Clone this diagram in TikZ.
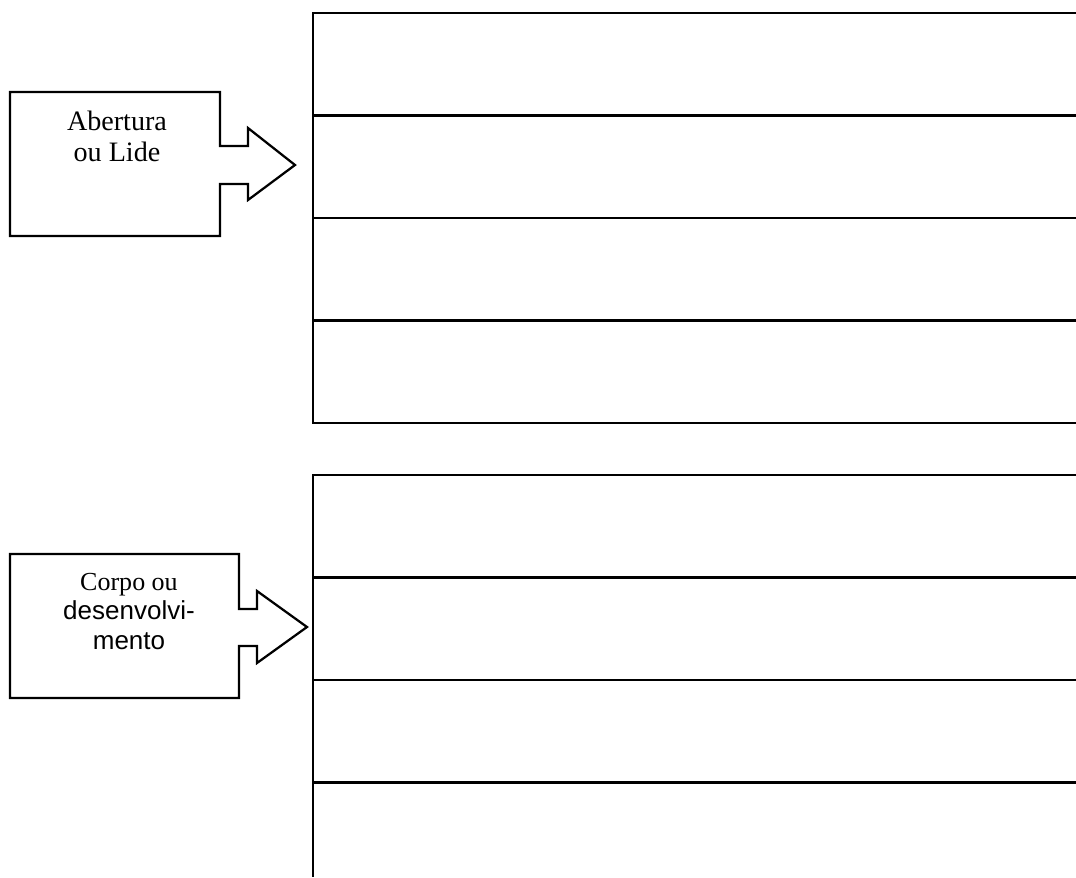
\documentclass[tikz,border=0pt]{standalone}
\usepackage{fontspec}
\setmainfont{Liberation Serif}
\setsansfont{Liberation Sans}

\begin{document}
\begin{tikzpicture}[x=0.02cm, y=-0.02cm, line width=0.045cm,
  label text/.style={align=center, anchor=north, inner sep=0pt, font=\fontsize{16}{17.4}\selectfont}]
\useasboundingbox (0,0) rectangle (1076,877);
\clip (0,0) rectangle (1076,877);
% first callout
\draw (10,92) -- (220,92) -- (220,146) -- (248,146) -- (248,128) -- (295,165) -- (248,200) -- (248,184) -- (220,184) -- (220,236) -- (10,236) -- cycle;
\node[label text] (lide) at (117,110) {Abertura\\ou Lide};
% second callout
\draw (10,554) -- (239,554) -- (239,609) -- (257,609) -- (257,591) -- (307,627) -- (257,663) -- (257,646) -- (239,646) -- (239,698) -- (10,698) -- cycle;
\node[label text, font=\fontsize{14.8}{16.8}\selectfont] (corpo) at (129,572) {Corpo ou\\\textsf{desenvolvi-}\\\textsf{mento}};
% upper rows
\draw (1076,13) -- (313,13) -- (313,423) -- (1076,423);
\foreach \y in {115.5,218,320.5}
  \draw (313,\y) -- (1076,\y);
% lower rows
\draw (1076,475) -- (313,475) -- (313,877);
\foreach \y in {577.5,680,782.5}
  \draw (313,\y) -- (1076,\y);
\end{tikzpicture}
\end{document}
